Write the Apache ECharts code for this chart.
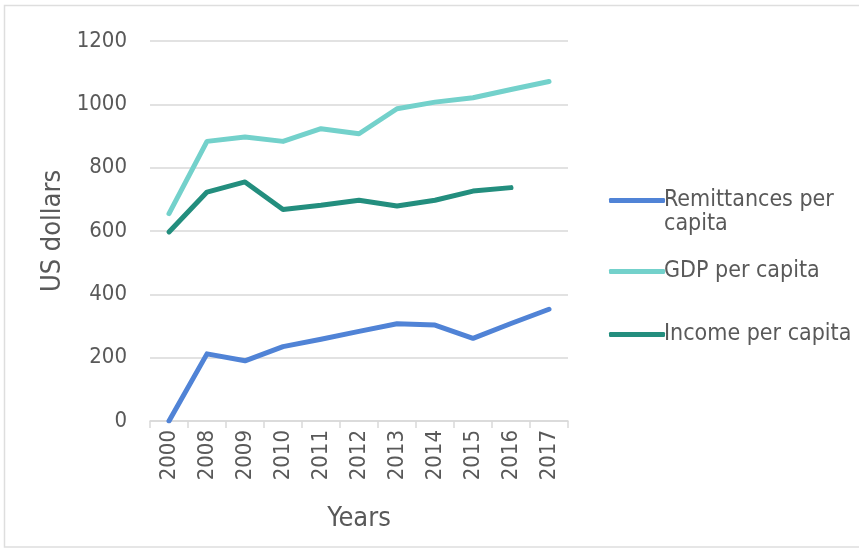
<!DOCTYPE html>
<html>
<head>
<meta charset="utf-8">
<script src="https://cdn.jsdelivr.net/npm/echarts@6/dist/echarts.min.js"></script>
<style>
html,body{margin:0;padding:0;background:#fff;}
#chart{width:859px;height:549px;}
</style>
</head>
<body>
<div id="chart"></div>
<script>
var years = ['2000','2008','2009','2010','2011','2012','2013','2014','2015','2016','2017'];
var remittances = [0, 212, 190, 235, 258, 283, 307, 303, 261, 308, 353];
var gdp = [655, 883, 897, 883, 923, 907, 986, 1007, 1021, 1047, 1072];
var income = [597, 723, 755, 668, 681, 697, 679, 697, 726, 737, null];
var yTicks = [0, 1200, 200];

var FONT = '"DejaVu Sans Condensed", "DejaVu Sans", sans-serif';
var TXT = '#595959';
var C_REM = '#5083d6', C_GDP = '#73d1cb', C_INC = '#238e7e';

var chart = echarts.init(document.getElementById('chart'));
function lineSeries(name, data, color) {
  return {
    name: name, type: 'line', data: data, symbol: 'none',
    lineStyle: {width: 5, color: color, cap: 'round', join: 'round'},
    itemStyle: {color: color}, connectNulls: false, animation: false
  };
}
function legendAt(name, top, text) {
  return {
    data: [name], left: 604, top: top, orient: 'vertical',
    icon: 'roundRect', itemWidth: 56, itemHeight: 5, itemGap: 0,
    formatter: function () { return text; },
    textStyle: {fontFamily: FONT, fontSize: 23, color: TXT, padding: [0,0,0,-6]},
    selectedMode: false
  };
}
chart.setOption({
  backgroundColor: '#fff',
  animation: false,
  textStyle: {fontFamily: FONT},
  grid: {left: 150, right: 291, top: 41, bottom: 128},
  legend: [
    legendAt('Remittances per capita', 184, 'Remittances per'),
    legendAt('GDP per capita', 255, 'GDP per capita'),
    legendAt('Income per capita', 318, 'Income per capita')
  ],
  graphic: [
    {type: 'text', left: 664, top: 213, style: {text: 'capita', font: '23px ' + FONT, fill: TXT}},
    {type: 'rect', shape: {x: 4.5, y: 5.5, width: 860, height: 541.5}, style: {fill: 'none', stroke: '#dedede', lineWidth: 1.5}, silent: true, z: -1}
  ],
  xAxis: {
    type: 'category', data: years, boundaryGap: true,
    name: 'Years', nameLocation: 'middle', nameGap: 84,
    nameTextStyle: {fontFamily: FONT, fontSize: 27, color: TXT},
    axisLine: {show: true, lineStyle: {color: '#d9d9d9', width: 1.5}},
    axisTick: {show: true, length: 7, lineStyle: {color: '#d9d9d9', width: 1.5}},
    axisLabel: {rotate: 90, fontFamily: FONT, fontSize: 22, color: TXT, margin: 9}
  },
  yAxis: {
    type: 'value', min: yTicks[0], max: yTicks[1], interval: yTicks[2],
    name: 'US dollars', nameLocation: 'middle', nameGap: 84,
    nameTextStyle: {fontFamily: FONT, fontSize: 27, color: TXT},
    axisLine: {show: false}, axisTick: {show: false},
    axisLabel: {fontFamily: FONT, fontSize: 22, color: TXT, margin: 23, formatter: function (v) { return String(v); }},
    splitLine: {lineStyle: {color: '#d9d9d9', width: 1.5}}
  },
  series: [
    lineSeries('Remittances per capita', remittances, C_REM),
    lineSeries('GDP per capita', gdp, C_GDP),
    lineSeries('Income per capita', income, C_INC)
  ]
});
</script>
</body>
</html>
